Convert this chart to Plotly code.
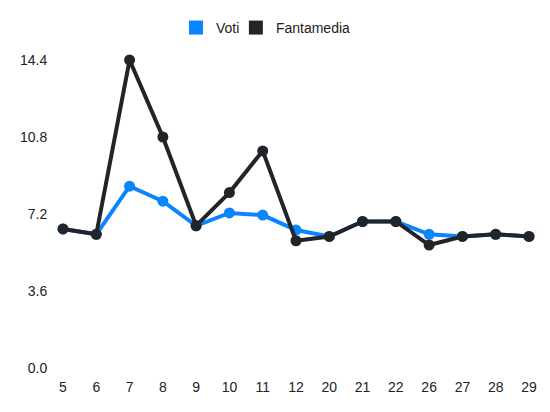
import plotly.graph_objects as go

giornate = ["5", "6", "7", "8", "9", "10", "11", "12", "20", "21", "22", "26", "27", "28", "29"]
voti = [6.5, 6.25, 8.5, 7.8, 6.65, 7.25, 7.15, 6.45, 6.15, 6.85, 6.85, 6.25, 6.15, 6.25, 6.15]
fantamedia = [6.5, 6.25, 14.4, 10.8, 6.65, 8.2, 10.15, 5.95, 6.15, 6.85, 6.85, 5.75, 6.15, 6.25, 6.15]
y_ticks = [0.0, 3.6, 7.2, 10.8, 14.4]

BLUE = "#0a84ff"
DARK = "#212529"

fig = go.Figure()
for name, vals, col, leg in [("Voti", voti, BLUE, "legend"), ("Fantamedia", fantamedia, DARK, "legend2")]:
    fig.add_trace(go.Scatter(
        x=giornate, y=vals, mode="lines+markers", name=name,
        line=dict(color=col, width=4), marker=dict(color=col, size=11),
        cliponaxis=False, showlegend=False,
    ))
    # square legend entry
    fig.add_trace(go.Scatter(
        x=[None], y=[None], mode="markers", name=name, legend=leg,
        marker=dict(color=col, size=14, symbol="square"),
    ))

leg_style = dict(orientation="h", xanchor="left", y=1.104, yanchor="middle",
                 font=dict(size=14), bgcolor="rgba(0,0,0,0)")

# page body has an 8px margin, so the figure is a bit smaller than the window
fig.update_layout(
    width=542, height=404,
    margin=dict(l=55, r=21, t=52, b=44, autoexpand=False),
    plot_bgcolor="white", paper_bgcolor="white",
    font=dict(family="Liberation Sans, Arial, sans-serif", size=14, color="#222"),
    legend=dict(x=0.2425, **leg_style),
    legend2=dict(x=0.371, **leg_style),
)
fig.update_xaxes(type="category", range=[0, len(giornate) - 1], showgrid=False,
                 zeroline=False, showline=False, ticks="outside", ticklen=6,
                 tickcolor="white")
fig.update_yaxes(range=[0, 14.4], tickvals=y_ticks, tickformat=".1f", showgrid=False,
                 zeroline=False, showline=False, ticks="outside", ticklen=12,
                 tickcolor="white")

fig.write_html("out.html")
